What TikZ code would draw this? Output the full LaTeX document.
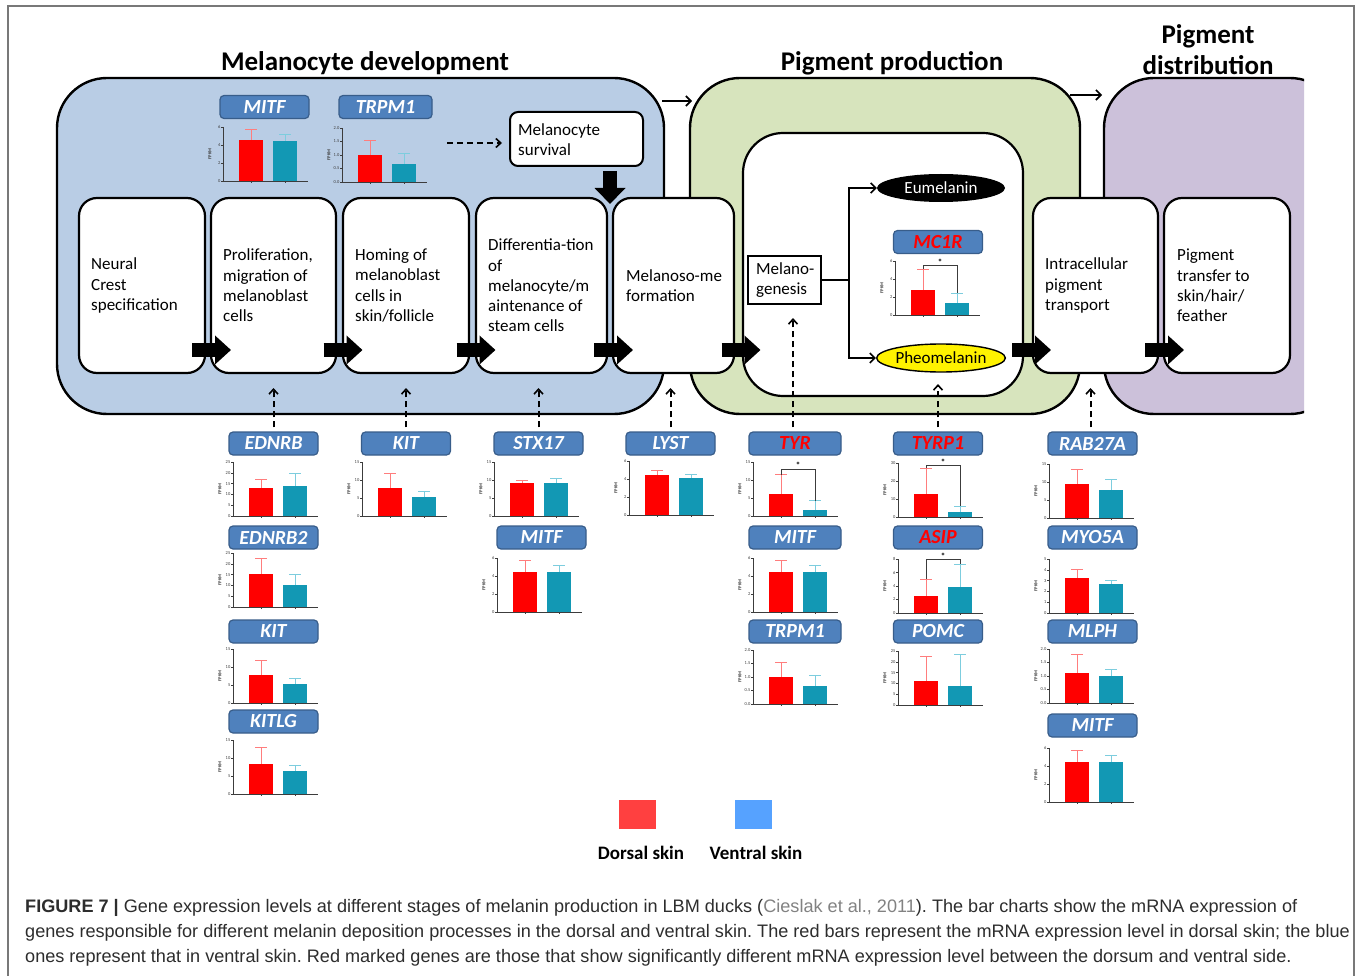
\documentclass[tikz,border=0pt]{standalone}
\usepackage{fontspec}
\setmainfont{Carlito}
\newfontfamily\capfont{Liberation Sans}
\usetikzlibrary{arrows.meta,shapes.geometric}
\frenchspacing
\definecolor{panelblue}{RGB}{185,205,229}
\definecolor{panelgreen}{RGB}{215,228,189}
\definecolor{panelpurple}{RGB}{204,193,218}
\definecolor{labfill}{RGB}{79,129,189}
\definecolor{labedge}{RGB}{56,93,138}
\definecolor{barred}{RGB}{255,0,0}
\definecolor{barteal}{RGB}{18,152,180}
\definecolor{errred}{RGB}{255,125,125}
\definecolor{errteal}{RGB}{125,205,222}
\definecolor{legred}{RGB}{255,64,64}
\definecolor{legblue}{RGB}{86,162,255}
\definecolor{captext}{RGB}{45,45,45}
\definecolor{citegray}{RGB}{130,130,130}
\definecolor{framegray}{RGB}{120,120,120}
\definecolor{axisgray}{RGB}{60,60,60}
\tikzset{
  panel/.style={draw=black, line width=2.4pt, rounded corners=50pt, inner sep=0pt},
  stepbox/.style={draw=black, line width=2.2pt, rounded corners=18pt, fill=white, inner sep=0pt},
  steptext/.style={anchor=west, align=left, font=\fontsize{17}{20.3}\selectfont, inner sep=0pt},
  genelab/.style={draw=labedge, line width=1.2pt, fill=labfill, rounded corners=4pt,
    minimum width=89pt, minimum height=23pt, inner sep=0pt, text=white,
    font=\fontsize{20}{20}\selectfont\bfseries\itshape},
  siglab/.style={genelab, text=red},
  blockarr/.style={line width=14pt, -{Triangle[length=16pt,width=28pt]}},
  dasharr/.style={line width=2pt, dash pattern=on 6pt off 4pt,
    -{Straight Barb[length=5pt,width=9pt,line width=1.6pt]}},
  thinarr/.style={line width=1.6pt, -{Straight Barb[length=5pt,width=10pt]}},
  ticklab/.style={font=\fontsize{4.5}{5}\selectfont, inner sep=0.5pt, anchor=east, text=axisgray},
  fpkm/.style={font=\fontsize{4.5}{5}\selectfont\bfseries, rotate=90, inner sep=0pt, text=axisgray},
  titletext/.style={font=\fontsize{27}{31}\selectfont\bfseries, align=center, inner sep=0pt},
  captionline/.style={anchor=base west, inner sep=0pt, font=\capfont\fontsize{18.1}{20}\selectfont, text=captext},
  legtext/.style={font=\fontsize{19}{19}\selectfont\bfseries, inner sep=0pt}
}
% bar chart: x0, y0 (axis bottom), ticks, max, red, red err, teal, teal err
\newcommand{\bchart}[8]{%
  \pgfmathsetmacro\chRh{#5/#4*54}%
  \pgfmathsetmacro\chRe{#6/#4*54}%
  \pgfmathsetmacro\chBh{#7/#4*54}%
  \pgfmathsetmacro\chBe{#8/#4*54}%
  \draw[errred, line width=1pt] (#1+28,#2-\chRh) -- (#1+28,#2-\chRe) (#1+22,#2-\chRe) -- (#1+34,#2-\chRe);
  \draw[errteal, line width=1pt] (#1+62,#2-\chBh) -- (#1+62,#2-\chBe) (#1+56,#2-\chBe) -- (#1+68,#2-\chBe);
  \fill[barred] (#1+16,#2) rectangle (#1+40,#2-\chRh);
  \fill[barteal] (#1+50,#2) rectangle (#1+74,#2-\chBh);
  \draw[axisgray, line width=0.8pt] (#1,#2-54) -- (#1,#2) -- (#1+85,#2);
  \draw[axisgray, line width=0.6pt] (#1+28,#2) -- (#1+28,#2+2) (#1+62,#2) -- (#1+62,#2+2);
  \foreach \tk in {#3}{%
    \pgfmathsetmacro\chTy{\tk/#4*54}%
    \draw[axisgray, line width=0.6pt] (#1-2,#2-\chTy) -- (#1,#2-\chTy);
    \path (#1-2,#2-\chTy) node[ticklab]{\tk};}
  \path (#1-13,#2-27) node[fpkm]{FPKM};
}
% significance bracket: x0, y0, max, level, red top, teal top
\newcommand{\sigbr}[6]{%
  \pgfmathsetmacro\sgL{#4/#3*54}%
  \pgfmathsetmacro\sgR{#5/#3*54}%
  \pgfmathsetmacro\sgB{#6/#3*54}%
  \draw[axisgray, line width=0.8pt] (#1+28,#2-\sgR) -- (#1+28,#2-\sgL) -- (#1+62,#2-\sgL) -- (#1+62,#2-\sgB);
  \path (#1+45,#2-\sgL) node[font=\fontsize{9}{9}\selectfont\bfseries, anchor=south, inner sep=0.3pt]{*};
}
\begin{document}
\begin{tikzpicture}[x=1pt,y=-1pt]
\useasboundingbox (0,0) rectangle (1357,976);
\fill[white] (0,0) rectangle (1357,976);

% panels
\node[panel, fill=panelblue, minimum width=607, minimum height=336] (pblue) at (360.5,246) {};
\node[panel, fill=panelgreen, minimum width=390, minimum height=336] (pgreen) at (885,246) {};
\begin{scope}
  \clip (1090,60) rectangle (1304,430);
  \node[panel, fill=panelpurple, minimum width=236, minimum height=336] (ppurple) at (1222,246) {};
\end{scope}
\node[draw=black, line width=2.2pt, rounded corners=40pt, fill=white, minimum width=280, minimum height=263, inner sep=0pt] (pinner) at (883,264.5) {};

% titles
\node[titletext] (title1) at (365,63) {Melanocyte development};
\node[titletext] (title2) at (892,63) {Pigment production};
\node[titletext] (title3) at (1208,50) {Pigment\\distribution};

% arrows between panels
\coordinate (pa1) at (662,101);
\coordinate (pa2) at (692,101);
\coordinate (pa3) at (1070,95);
\coordinate (pa4) at (1102,95);
\draw[thinarr] (pa1) -- (pa2);
\draw[thinarr] (pa3) -- (pa4);

% step boxes
\node[stepbox, minimum width=126, minimum height=175] (s1) at (142,285.5) {};
\node[stepbox, minimum width=125, minimum height=175] (s2) at (273.5,285.5) {};
\node[stepbox, minimum width=126, minimum height=175] (s3) at (406,285.5) {};
\node[stepbox, minimum width=131, minimum height=175] (s4) at (541.5,285.5) {};
\node[stepbox, minimum width=121, minimum height=175] (s5) at (673.5,285.5) {};
\node[stepbox, minimum width=125, minimum height=175] (s6) at (1095.5,285.5) {};
\node[stepbox, minimum width=126, minimum height=175] (s7) at (1227,285.5) {};

\node[steptext] (t1) at (91,285.5) {Neural\\Crest\\specification};
\node[steptext] (t2) at (223,285.5) {Proliferation,\\migration of\\melanoblast\\cells};
\node[steptext] (t3) at (355,285.5) {Homing of\\melanoblast\\cells in\\skin/follicle};
\node[steptext] (t4) at (488,285.5) {Differentia-tion\\of\\melanocyte/m\\aintenance of\\steam cells};
\node[steptext] (t5) at (626,285.5) {Melanoso-me\\formation};
\node[steptext] (t6) at (1045,285.5) {Intracellular\\pigment\\transport};
\node[steptext] (t7) at (1177,285.5) {Pigment\\transfer to\\skin/hair/\\feather};

% melanocyte survival
\node[draw=black, line width=2pt, rounded corners=8pt, fill=white, minimum width=133, minimum height=54, inner sep=0pt] (surv) at (576.5,139) {};
\node[steptext] (survt) at (518,140) {Melanocyte\\survival};

% melanogenesis
\node[draw=black, line width=2pt, fill=white, minimum width=73, minimum height=48, inner sep=0pt] (mgen) at (784.5,280) {};
\node[steptext] (mgent) at (756,280) {Melano-\\genesis};
\node[ellipse, fill=black, minimum width=128, minimum height=28, inner sep=0pt, text=white, font=\fontsize{17}{17}\selectfont] (eum) at (941,188) {Eumelanin};
\node[ellipse, draw=black, line width=1.4pt, fill=yellow, minimum width=128, minimum height=28, inner sep=0pt, font=\fontsize{17}{17}\selectfont] (pheo) at (941,358) {Pheomelanin};
\coordinate (br) at (849,280);
\draw[line width=1.6pt] (mgen.east) -- (br);
\draw[thinarr] (br) |- (eum.west);
\draw[thinarr] (br) |- (pheo.west);

% block arrows
\foreach \c [count=\i] in {208,339.5,472.5,610,737.5,1028,1161}{
  \coordinate (ba\i) at (\c-16,350);
  \coordinate (bb\i) at (\c+23,350);
  \draw[blockarr] (ba\i) -- (bb\i);
}
\coordinate (dvs) at (610,171);
\coordinate (dve) at (610,204);
\draw[line width=14pt, -{Triangle[length=16pt,width=30pt]}] (dvs) -- (dve);

% dashed arrow to survival
\coordinate (dstart) at (447,143);
\draw[dasharr, shorten >=7pt] (dstart) -- (surv.west |- dstart);

% gene labels
\node[genelab] (gMITFa) at (264.5,107) {MITF};
\node[genelab, minimum width=93] (gTRPMa) at (385.5,107) {TRPM1};
\node[genelab] (gEDNRB) at (273.5,443.5) {EDNRB};
\node[genelab] (gKITa) at (406,443.5) {KIT};
\node[genelab] (gSTX) at (538.5,443.5) {STX17};
\node[genelab] (gLYST) at (670.5,443.5) {LYST};
\node[siglab, minimum width=92] (gTYR) at (795,443.5) {TYR};
\node[siglab] (gTYRP) at (938,443.5) {TYRP1};
\node[genelab] (gRAB) at (1092.5,443.5) {RAB27A};
\node[genelab] (gEDNRBb) at (273.5,537.5) {EDNRB2};
\node[genelab] (gMITFb) at (541.5,537.5) {MITF};
\node[genelab, minimum width=92] (gMITFc) at (795,537.5) {MITF};
\node[siglab] (gASIP) at (938,537.5) {ASIP};
\node[genelab] (gMYO) at (1092.5,537.5) {MYO5A};
\node[genelab] (gKITb) at (273.5,631.5) {KIT};
\node[genelab, minimum width=92] (gTRPMb) at (795,631.5) {TRPM1};
\node[genelab] (gPOMC) at (938,631.5) {POMC};
\node[genelab] (gMLPH) at (1092.5,631.5) {MLPH};
\node[genelab] (gKITLG) at (273.5,721.5) {KITLG};
\node[genelab] (gMITFd) at (1092.5,725.5) {MITF};
\node[siglab] (gMC1R) at (938,242) {MC1R};

% dashed up arrows
\coordinate (rowtip) at (0,388);
\coordinate (tyrtip) at (0,318);
\coordinate (tyrptip) at (0,384);
\draw[dasharr] ([yshift=4pt]gEDNRB.north) -- (gEDNRB.north |- rowtip);
\draw[dasharr] ([yshift=4pt]gKITa.north) -- (gKITa.north |- rowtip);
\draw[dasharr] ([yshift=4pt]gSTX.north) -- (gSTX.north |- rowtip);
\draw[dasharr] ([yshift=4pt]gLYST.north) -- (gLYST.north |- rowtip);
\draw[dasharr] ([xshift=-2pt,yshift=4pt]gTYR.north) -- ([xshift=-2pt]gTYR.north |- tyrtip);
\draw[dasharr] ([yshift=4pt]gTYRP.north) -- (gTYRP.north |- tyrptip);
\draw[dasharr] ([xshift=-2pt,yshift=4pt]gRAB.north) -- ([xshift=-2pt]gRAB.north |- rowtip);

% charts
\bchart{223}{181}{0,2,4,6}{6}{4.5}{5.7}{4.4}{5.2}
\bchart{342}{182}{0.0,0.5,1.0,1.5,2.0}{2}{1.0}{1.55}{0.68}{1.05}
\bchart{895}{315}{0,2,4,6}{6}{2.8}{5.1}{1.3}{2.4}
\sigbr{895}{315}{6}{5.5}{5.1}{2.4}
\bchart{233}{516}{0,5,10,15,20,25}{25}{13}{17}{14}{19.5}
\bchart{362}{516}{0,5,10,15}{15}{7.8}{11.8}{5.2}{6.9}
\bchart{494}{516}{0,5,10,15}{15}{9.2}{9.8}{9.3}{10.5}
\bchart{629}{515}{0,2,4,6}{6}{4.5}{4.9}{4.1}{4.5}
\bchart{753}{516}{0,5,10,15}{15}{6.2}{11.5}{1.8}{4.2}
\sigbr{753}{516}{15}{13}{11.5}{4.2}
\bchart{898}{517}{0,10,20,30}{30}{13}{27}{2.7}{6}
\sigbr{898}{517}{30}{28.5}{27}{6}
\bchart{1049}{518}{0,5,10,15}{15}{9.5}{13.5}{7.8}{10.8}
\bchart{233}{607}{0,5,10,15,20,25}{25}{15.5}{22.6}{10.4}{15}
\bchart{497}{612}{0,2,4,6}{6}{4.5}{5.7}{4.4}{5.2}
\bchart{753}{612}{0,2,4,6}{6}{4.5}{5.7}{4.4}{5.2}
\bchart{898}{613}{0,2,4,6,8}{8}{2.5}{5}{3.9}{7.2}
\sigbr{898}{613}{8}{7.9}{5}{7.2}
\bchart{1049}{613}{0,1,2,3,4,5}{5}{3.2}{4}{2.7}{3}
\bchart{233}{703}{0,5,10,15}{15}{7.8}{11.8}{5.2}{6.9}
\bchart{753}{704}{0.0,0.5,1.0,1.5,2.0}{2}{1.0}{1.55}{0.68}{1.05}
\bchart{898}{705}{0,5,10,15,20,25}{25}{11}{22.5}{9}{23.5}
\bchart{1049}{703}{0.0,0.5,1.0,1.5,2.0}{2}{1.1}{1.8}{1.0}{1.25}
\bchart{233}{794}{0,5,10,15}{15}{8.4}{12.8}{6.4}{7.8}
\bchart{1049}{802}{0,2,4,6}{6}{4.5}{5.7}{4.4}{5.2}

% legend
\node[fill=legred, minimum width=37, minimum height=29, inner sep=0pt] (legr) at (637.5,814.5) {};
\node[fill=legblue, minimum width=37, minimum height=29, inner sep=0pt] (legb) at (753.5,814.5) {};
\node[legtext] (legrt) at (641,853) {Dorsal skin};
\node[legtext] (legbt) at (756,853) {Ventral skin};

% caption
\node[captionline] (cap1) at (25,912) {{\bfseries FIGURE 7 |} Gene expression levels at different stages of melanin production in LBM ducks ({\color{citegray}Cieslak et al., 2011}). The bar charts show the mRNA expression of};
\node[captionline] (cap2) at (25,937) {genes responsible for different melanin deposition processes in the dorsal and ventral skin. The red bars represent the mRNA expression level in dorsal skin; the blue};
\node[captionline] (cap3) at (25,962) {ones represent that in ventral skin. Red marked genes are those that show significantly different mRNA expression level between the dorsum and ventral side.};

% frame
\draw[framegray, line width=1.5pt] (8,976) -- (8,6) -- (1354,6) -- (1354,976);
\end{tikzpicture}
\end{document}
